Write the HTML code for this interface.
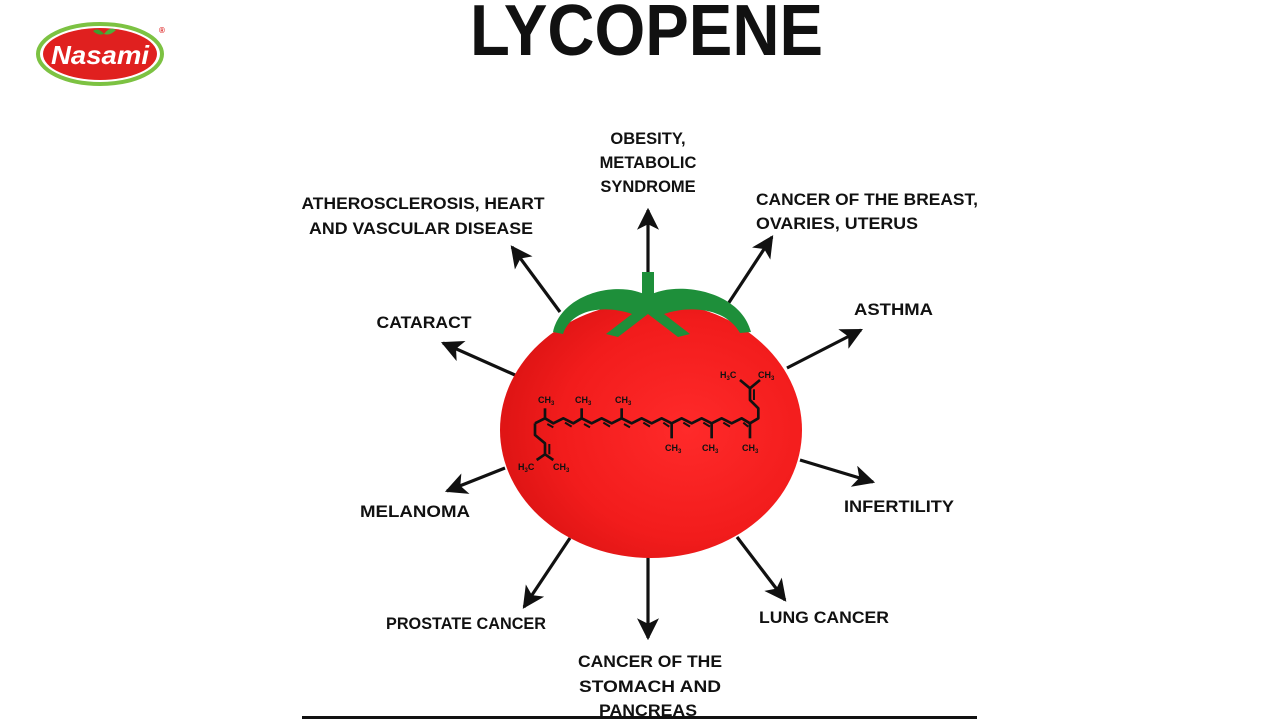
<!DOCTYPE html>
<html><head><meta charset="utf-8"><style>
html,body{margin:0;padding:0;background:#fff;}
svg{display:block;}
text{font-family:"Liberation Sans",sans-serif;font-weight:bold;fill:#111;}
</style></head><body>
<svg width="1280" height="720" viewBox="0 0 1280 720" xmlns="http://www.w3.org/2000/svg">
<defs>
<radialGradient id="tg" cx="0.62" cy="0.5" r="0.6">
<stop offset="0" stop-color="#ff2a2a"/><stop offset="0.7" stop-color="#f21c1c"/><stop offset="1" stop-color="#e01515"/>
</radialGradient>
<marker id="ah" viewBox="0 0 20 20" refX="18" refY="10" markerWidth="22" markerHeight="22" markerUnits="userSpaceOnUse" orient="auto">
<path d="M0,0 L20,10 L0,20 L5,10 Z" fill="#111"/>
</marker>
</defs>

<!-- logo -->
<ellipse cx="100" cy="54" rx="62" ry="30" fill="#fff" stroke="#7cc242" stroke-width="4"/>
<ellipse cx="100" cy="54" rx="57" ry="26" fill="#e0201f"/>
<path d="M104,34 q6,-8 12,-4 q-6,6 -12,4 Z" fill="#4caf3a"/>
<path d="M104,34 q-6,-7 -11,-3 q5,5 11,3 Z" fill="#3d9e2e"/>
<text x="100" y="64" text-anchor="middle" font-size="26" font-style="italic" style="fill:#fff" textLength="98" lengthAdjust="spacingAndGlyphs">Nasami</text>
<text x="159" y="33" font-size="8" style="fill:#d22">®</text>

<!-- title -->
<text x="470" y="55" font-size="72" textLength="353" lengthAdjust="spacingAndGlyphs">LYCOPENE</text>

<!-- arrows -->
<g stroke="#111" stroke-width="3.2" fill="none" marker-end="url(#ah)">
<line x1="648" y1="278" x2="648" y2="210"/>
<line x1="560" y1="312" x2="512" y2="247"/>
<line x1="728" y1="304" x2="772" y2="237"/>
<line x1="515" y1="375" x2="443" y2="343"/>
<line x1="787" y1="368" x2="861" y2="330"/>
<line x1="505" y1="468" x2="447" y2="491"/>
<line x1="800" y1="460" x2="873" y2="482"/>
<line x1="570" y1="538" x2="524" y2="607"/>
<line x1="648" y1="556" x2="648" y2="638"/>
<line x1="737" y1="537" x2="785" y2="600"/>
</g>

<!-- tomato -->
<ellipse cx="651" cy="430" rx="151" ry="128" fill="url(#tg)"/>
<g fill="#1e8f3a">
<rect x="642" y="272" width="12" height="32"/>
<path d="M553,332 C562,292 620,280 648,296 C676,280 740,290 751,332 L740,333 C726,308 690,305 664,314 L690,334 L678,337 L648,314 L618,337 L606,334 L632,314 C606,305 572,308 563,334 Z"/>
</g>

<!-- molecule -->
<g transform="translate(510,360) scale(0.3333)" stroke="#111" stroke-width="8" fill="none" stroke-linejoin="round">
<polyline points="75,190 105,175 130,190 160,175 190,190 215,175 245,190 275,175 305,190 335,175 365,190 395,175 425,190 455,175 485,190 515,175 545,190 575,175 605,190 635,175 665,190 695,175 720,190 745,175 745,145 720,120 720,85 690,60"/>
<polyline points="720,85 750,60"/>
<polyline points="75,190 75,225 105,250 105,283 80,300"/>
<polyline points="105,283 130,300"/>
<line x1="105" y1="175" x2="105" y2="145"/>
<line x1="215" y1="175" x2="215" y2="145"/>
<line x1="335" y1="175" x2="335" y2="145"/>
<line x1="485" y1="190" x2="485" y2="235"/>
<line x1="605" y1="190" x2="605" y2="235"/>
<line x1="720" y1="190" x2="720" y2="235"/>
<g stroke-width="6">
<line x1="112" y1="192" x2="130" y2="202"/>
<line x1="165" y1="188" x2="185" y2="200"/>
<line x1="222" y1="192" x2="240" y2="202"/>
<line x1="280" y1="188" x2="300" y2="200"/>
<line x1="342" y1="192" x2="360" y2="202"/>
<line x1="400" y1="188" x2="420" y2="200"/>
<line x1="460" y1="188" x2="478" y2="200"/>
<line x1="520" y1="188" x2="540" y2="200"/>
<line x1="580" y1="188" x2="600" y2="200"/>
<line x1="640" y1="188" x2="660" y2="200"/>
<line x1="700" y1="188" x2="715" y2="200"/>
<line x1="732" y1="120" x2="732" y2="88"/>
<line x1="118" y1="252" x2="118" y2="283"/>
</g>
</g>
<g font-size="9">
<text x="538" y="403">CH<tspan font-size="6" dy="2">3</tspan></text>
<text x="575" y="403">CH<tspan font-size="6" dy="2">3</tspan></text>
<text x="615" y="403">CH<tspan font-size="6" dy="2">3</tspan></text>
<text x="665" y="451">CH<tspan font-size="6" dy="2">3</tspan></text>
<text x="702" y="451">CH<tspan font-size="6" dy="2">3</tspan></text>
<text x="742" y="451">CH<tspan font-size="6" dy="2">3</tspan></text>
<text x="720" y="378">H<tspan font-size="6" dy="2">3</tspan><tspan dy="-2">C</tspan></text>
<text x="758" y="378">CH<tspan font-size="6" dy="2">3</tspan></text>
<text x="518" y="470">H<tspan font-size="6" dy="2">3</tspan><tspan dy="-2">C</tspan></text>
<text x="553" y="470">CH<tspan font-size="6" dy="2">3</tspan></text>
</g>

<!-- labels -->
<g font-size="16.5">
<text x="648" y="144" text-anchor="middle">OBESITY,</text>
<text x="648" y="168" text-anchor="middle">METABOLIC</text>
<text x="648" y="192" text-anchor="middle">SYNDROME</text>
<text x="423" y="209" text-anchor="middle" textLength="243" lengthAdjust="spacingAndGlyphs">ATHEROSCLEROSIS, HEART</text>
<text x="421" y="234" text-anchor="middle" textLength="224" lengthAdjust="spacingAndGlyphs">AND VASCULAR DISEASE</text>
<text x="756" y="205" textLength="222" lengthAdjust="spacingAndGlyphs">CANCER OF THE BREAST,</text>
<text x="756" y="229" textLength="162" lengthAdjust="spacingAndGlyphs">OVARIES, UTERUS</text>
<text x="424" y="328" text-anchor="middle" textLength="95" lengthAdjust="spacingAndGlyphs">CATARACT</text>
<text x="854" y="315" textLength="79" lengthAdjust="spacingAndGlyphs">ASTHMA</text>
<text x="415" y="517" text-anchor="middle" textLength="110" lengthAdjust="spacingAndGlyphs">MELANOMA</text>
<text x="844" y="512" textLength="110" lengthAdjust="spacingAndGlyphs">INFERTILITY</text>
<text x="466" y="629" text-anchor="middle" textLength="160" lengthAdjust="spacingAndGlyphs">PROSTATE CANCER</text>
<text x="759" y="623" textLength="130" lengthAdjust="spacingAndGlyphs">LUNG CANCER</text>
<text x="650" y="667" text-anchor="middle" textLength="144" lengthAdjust="spacingAndGlyphs">CANCER OF THE</text>
<text x="650" y="692" text-anchor="middle" textLength="142" lengthAdjust="spacingAndGlyphs">STOMACH AND</text>
<text x="648" y="716" text-anchor="middle" textLength="98" lengthAdjust="spacingAndGlyphs">PANCREAS</text>
</g>
<rect x="302" y="716" width="675" height="3" fill="#111"/>
</svg>
</body></html>
